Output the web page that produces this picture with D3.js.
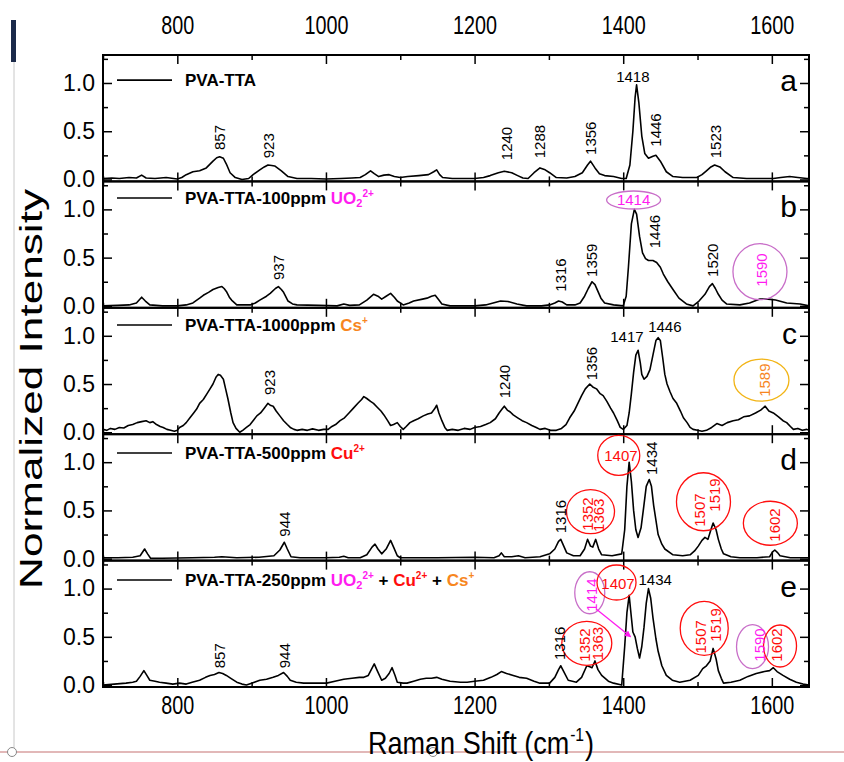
<!DOCTYPE html>
<html><head><meta charset="utf-8">
<script src="https://cdn.jsdelivr.net/npm/d3@7"></script>
<style>
html,body{margin:0;padding:0;background:#fff;}
svg{display:block;}
text{font-family:"Liberation Sans",Arial,sans-serif;}
</style></head><body>
<svg id="chart" width="844" height="762"></svg>
<script>
// ---------------- data ----------------
const xDomain=[700,1650];
const yDomain=[-0.02,1.29];
const xMajorTicks=[800,1000,1200,1400,1600];
const xMinorTicks=[700,900,1100,1300,1500];
const yMajorTicks=[0,0.5,1.0];
const yMinorTicks=[0.25,0.75,1.25];
const panelIds=["a","b","c","d","e"];

const specA=[[700,0.01],[712,0.015],[722,0.01],[735,0.02],[745,0.015],[752,0.045],[758,0.015],[770,0.01],[785,0.02],[795,0.01],[800,0.005],[806,0.02],[812,0.05],[821,0.08],[830,0.09],[839,0.12],[848,0.19],[853,0.225],[857,0.235],[862,0.22],[866,0.16],[871,0.07],[878,0.02],[887,0.0],[896,0.01],[902,0.05],[911,0.1],[917,0.13],[922,0.15],[927,0.145],[931,0.14],[940,0.09],[949,0.03],[961,0.01],[980,0.01],[1000,0.005],[1020,0.01],[1035,0.015],[1046,0.02],[1053,0.05],[1060,0.09],[1065,0.06],[1071,0.03],[1078,0.045],[1085,0.05],[1092,0.03],[1100,0.02],[1110,0.03],[1125,0.04],[1138,0.05],[1145,0.08],[1149,0.1],[1153,0.05],[1157,0.02],[1170,0.01],[1185,0.01],[1200,0.01],[1212,0.02],[1221,0.04],[1232,0.07],[1240,0.085],[1250,0.07],[1258,0.04],[1265,0.015],[1272,0.01],[1280,0.07],[1288,0.12],[1295,0.1],[1301,0.07],[1310,0.02],[1324,0.015],[1335,0.03],[1345,0.07],[1352,0.15],[1356,0.19],[1362,0.12],[1368,0.06],[1375,0.04],[1387,0.03],[1398,0.01],[1404,0.01],[1409,0.15],[1413,0.5],[1416,0.85],[1418,0.98],[1421,0.8],[1425,0.45],[1429,0.27],[1434,0.22],[1440,0.24],[1444,0.25],[1450,0.19],[1458,0.08],[1467,0.03],[1480,0.02],[1499,0.02],[1506,0.05],[1512,0.09],[1518,0.13],[1523,0.15],[1530,0.13],[1537,0.08],[1548,0.02],[1566,0.01],[1585,0.01],[1602,0.01],[1612,0.02],[1624,0.03],[1635,0.02],[1647,0.01],[1650,0.01]];

const specB=[[700,0.0],[720,0.005],[735,0.01],[745,0.03],[752,0.09],[757,0.05],[763,0.01],[780,0.0],[800,0.0],[812,0.01],[821,0.03],[830,0.08],[835,0.11],[842,0.14],[848,0.17],[855,0.19],[860,0.2],[863,0.18],[866,0.15],[870,0.09],[873,0.06],[880,0.01],[898,0.01],[905,0.03],[911,0.06],[920,0.1],[925,0.13],[932,0.18],[936,0.2],[940,0.17],[943,0.14],[949,0.05],[955,0.02],[961,0.01],[990,0.005],[1015,0.0],[1024,0.02],[1032,0.005],[1045,0.01],[1055,0.06],[1064,0.12],[1070,0.1],[1075,0.07],[1081,0.1],[1087,0.13],[1092,0.09],[1096,0.05],[1104,0.01],[1112,0.03],[1118,0.05],[1130,0.07],[1136,0.08],[1142,0.1],[1147,0.11],[1152,0.06],[1156,0.02],[1167,0.0],[1185,0.0],[1200,0.0],[1215,0.01],[1225,0.03],[1235,0.05],[1245,0.045],[1257,0.02],[1270,0.0],[1290,0.0],[1301,0.01],[1308,0.03],[1313,0.05],[1318,0.04],[1324,0.01],[1335,0.01],[1342,0.03],[1348,0.1],[1353,0.18],[1358,0.25],[1362,0.22],[1366,0.15],[1370,0.08],[1375,0.03],[1387,0.01],[1400,0.0],[1404,0.1],[1407,0.4],[1411,0.85],[1415,1.0],[1418,0.95],[1422,0.72],[1426,0.55],[1430,0.49],[1434,0.47],[1440,0.47],[1445,0.45],[1450,0.4],[1454,0.33],[1460,0.25],[1467,0.17],[1475,0.08],[1485,0.02],[1494,0.0],[1502,0.05],[1510,0.12],[1516,0.2],[1520,0.23],[1524,0.18],[1528,0.12],[1533,0.06],[1539,0.02],[1557,0.01],[1570,0.03],[1584,0.07],[1595,0.07],[1605,0.06],[1620,0.03],[1638,0.02],[1650,0.0]];

const specC=[[700,0.03],[705,0.02],[710,0.04],[716,0.03],[722,0.05],[728,0.045],[734,0.07],[740,0.08],[746,0.1],[752,0.11],[758,0.12],[763,0.1],[767,0.11],[772,0.08],[777,0.06],[781,0.05],[786,0.03],[791,0.02],[796,0.01],[800,0.02],[803,0.05],[808,0.07],[812,0.1],[817,0.15],[822,0.2],[826,0.24],[830,0.3],[835,0.34],[840,0.4],[844,0.45],[848,0.5],[852,0.57],[855,0.6],[858,0.59],[862,0.55],[865,0.45],[868,0.35],[872,0.2],[875,0.1],[879,0.04],[884,0.0],[888,0.02],[893,0.05],[898,0.08],[903,0.13],[907,0.17],[912,0.2],[917,0.25],[922,0.3],[925,0.28],[929,0.27],[933,0.22],[938,0.17],[943,0.12],[948,0.08],[952,0.05],[957,0.03],[961,0.02],[968,0.03],[975,0.02],[982,0.035],[990,0.02],[997,0.03],[1003,0.03],[1008,0.06],[1013,0.08],[1019,0.12],[1025,0.15],[1031,0.2],[1037,0.25],[1043,0.3],[1048,0.34],[1051,0.37],[1055,0.35],[1060,0.32],[1064,0.3],[1069,0.26],[1074,0.22],[1078,0.18],[1083,0.12],[1087,0.07],[1091,0.08],[1096,0.1],[1100,0.06],[1104,0.03],[1108,0.06],[1113,0.1],[1118,0.12],[1124,0.14],[1131,0.17],[1137,0.19],[1142,0.2],[1146,0.24],[1149,0.28],[1152,0.2],[1156,0.12],[1160,0.05],[1163,0.02],[1170,0.03],[1178,0.02],[1186,0.04],[1194,0.03],[1200,0.05],[1208,0.06],[1215,0.08],[1221,0.1],[1228,0.14],[1233,0.2],[1237,0.24],[1240,0.27],[1244,0.23],[1248,0.21],[1252,0.18],[1258,0.15],[1264,0.12],[1270,0.1],[1277,0.07],[1283,0.05],[1288,0.03],[1295,0.04],[1302,0.02],[1310,0.02],[1317,0.04],[1323,0.08],[1328,0.15],[1334,0.22],[1339,0.3],[1344,0.38],[1349,0.45],[1355,0.5],[1359,0.47],[1364,0.45],[1369,0.4],[1373,0.38],[1378,0.32],[1383,0.25],[1387,0.2],[1392,0.12],[1396,0.05],[1400,0.03],[1405,0.07],[1408,0.2],[1411,0.4],[1414,0.62],[1417,0.8],[1420,0.85],[1423,0.72],[1425,0.6],[1428,0.55],[1432,0.58],[1436,0.65],[1440,0.8],[1444,0.95],[1447,0.98],[1450,0.95],[1453,0.78],[1456,0.6],[1459,0.5],[1463,0.42],[1467,0.35],[1472,0.3],[1477,0.22],[1481,0.15],[1486,0.1],[1490,0.05],[1494,0.03],[1500,0.02],[1506,0.01],[1512,0.02],[1519,0.05],[1526,0.09],[1533,0.07],[1540,0.1],[1548,0.12],[1555,0.13],[1562,0.16],[1570,0.17],[1578,0.2],[1585,0.23],[1591,0.27],[1596,0.22],[1602,0.2],[1609,0.16],[1615,0.12],[1620,0.1],[1625,0.06],[1629,0.03],[1635,0.04],[1641,0.02],[1647,0.03],[1650,0.02]];

const specD=[[700,0.01],[720,0.01],[740,0.015],[750,0.03],[756,0.1],[760,0.05],[764,0.005],[780,0.005],[820,0.01],[850,0.015],[860,0.02],[880,0.01],[910,0.015],[930,0.03],[938,0.09],[944,0.17],[948,0.1],[953,0.02],[965,0.01],[1000,0.01],[1018,0.015],[1024,0.025],[1030,0.01],[1046,0.01],[1055,0.04],[1062,0.12],[1066,0.15],[1070,0.1],[1075,0.05],[1081,0.1],[1087,0.19],[1091,0.12],[1096,0.03],[1100,0.01],[1150,0.01],[1200,0.015],[1226,0.01],[1233,0.03],[1236,0.06],[1240,0.02],[1250,0.02],[1259,0.03],[1268,0.01],[1288,0.02],[1301,0.05],[1308,0.1],[1313,0.18],[1316,0.2],[1320,0.13],[1324,0.06],[1333,0.03],[1342,0.03],[1348,0.1],[1352,0.2],[1356,0.13],[1359,0.12],[1363,0.2],[1367,0.1],[1371,0.04],[1385,0.03],[1398,0.05],[1402,0.3],[1405,0.75],[1408,1.0],[1411,0.8],[1414,0.5],[1417,0.3],[1420,0.22],[1424,0.32],[1427,0.5],[1431,0.75],[1435,0.82],[1438,0.75],[1441,0.55],[1447,0.25],[1452,0.15],[1456,0.1],[1467,0.04],[1480,0.03],[1490,0.04],[1496,0.08],[1501,0.13],[1506,0.19],[1510,0.22],[1514,0.2],[1518,0.3],[1521,0.37],[1525,0.3],[1528,0.2],[1532,0.1],[1535,0.05],[1545,0.02],[1557,0.01],[1580,0.01],[1597,0.02],[1601,0.07],[1604,0.09],[1608,0.06],[1611,0.03],[1625,0.01],[1650,0.01]];

const specE=[[700,0.0],[715,0.01],[731,0.02],[740,0.03],[745,0.04],[750,0.09],[755,0.15],[759,0.1],[763,0.05],[770,0.04],[776,0.03],[785,0.02],[794,0.01],[803,0.02],[812,0.01],[820,0.03],[830,0.05],[838,0.08],[844,0.1],[850,0.11],[856,0.13],[861,0.12],[866,0.1],[872,0.07],[880,0.03],[887,0.01],[893,0.0],[900,0.02],[911,0.05],[920,0.06],[929,0.08],[936,0.1],[943,0.13],[948,0.09],[952,0.05],[960,0.03],[970,0.02],[985,0.02],[1001,0.02],[1012,0.04],[1024,0.06],[1035,0.07],[1045,0.08],[1051,0.08],[1057,0.1],[1061,0.16],[1065,0.22],[1069,0.15],[1075,0.05],[1080,0.07],[1085,0.12],[1089,0.18],[1093,0.1],[1096,0.03],[1104,0.02],[1109,0.02],[1118,0.04],[1127,0.06],[1135,0.07],[1142,0.07],[1149,0.08],[1156,0.06],[1167,0.04],[1181,0.03],[1190,0.03],[1200,0.04],[1212,0.05],[1222,0.08],[1230,0.11],[1236,0.14],[1243,0.12],[1252,0.1],[1260,0.08],[1270,0.07],[1280,0.04],[1288,0.02],[1301,0.02],[1308,0.08],[1313,0.16],[1316,0.2],[1320,0.14],[1326,0.05],[1337,0.03],[1344,0.08],[1351,0.2],[1355,0.19],[1358,0.18],[1362,0.25],[1366,0.16],[1371,0.1],[1380,0.04],[1387,0.02],[1398,0.0],[1402,0.4],[1405,0.75],[1408,0.93],[1411,0.7],[1413,0.55],[1416,0.5],[1419,0.38],[1422,0.28],[1425,0.4],[1428,0.6],[1431,0.85],[1434,1.0],[1437,0.9],[1440,0.7],[1444,0.48],[1447,0.35],[1452,0.2],[1458,0.1],[1466,0.05],[1476,0.03],[1490,0.05],[1501,0.1],[1507,0.17],[1512,0.2],[1517,0.25],[1521,0.38],[1525,0.27],[1528,0.15],[1532,0.07],[1535,0.02],[1545,0.03],[1557,0.05],[1568,0.09],[1579,0.12],[1590,0.14],[1597,0.15],[1602,0.18],[1607,0.14],[1615,0.1],[1624,0.06],[1633,0.03],[1642,0.01],[1650,0.0]];

const spectra=[specA,specB,specC,specD,specE];

// legend text segments: [text, colour key, mode]
const legendA=[["PVA-TTA","k"]];
const legendB=[["PVA-TTA-100ppm ","k"],["UO","u"],["2","u","sub"],["2+","u","sup"]];
const legendC=[["PVA-TTA-1000ppm ","k"],["Cs","s"],["+","s","sup"]];
const legendD=[["PVA-TTA-500ppm ","k"],["Cu","r"],["2+","r","sup"]];
const legendE=[["PVA-TTA-250ppm ","k"],["UO","u"],["2","u","sub"],["2+","u","sup"],[" + ","k"],["Cu","r"],["2+","r","sup"],[" + ","k"],["Cs","s"],["+","s","sup"]];
const legends=[legendA,legendB,legendC,legendD,legendE];
const legendLevel=[1.03,1.118,1.112,1.095,1.089];

// peak labels: [text, wavenumber, intensity, colour key, kind]
const peaksA=[["857",857,0.305,"k","v"],["923",923,0.22,"k","v"],["1240",1243,0.2,"k","v"],["1288",1288,0.22,"k","v"],["1356",1356,0.254,"k","v"],["1446",1444,0.34,"k","v"],["1523",1525,0.22,"k","v"],["1418",1413,1.01,"k","h"]];
const peaksB=[["937",936,0.268,"k","v"],["1316",1316,0.147,"k","v"],["1359",1357,0.3,"k","v"],["1446",1443,0.597,"k","v"],["1520",1521,0.3,"k","v"],["1414",1414,1.097,"u","hc"],["1590",1586,0.372,"u","vc"]];
const peaksC=[["923",925,0.386,"k","v"],["1240",1241,0.352,"k","v"],["1356",1357,0.54,"k","v"],["1417",1405,0.94,"k","h"],["1446",1456,1.04,"k","h"],["1589",1591,0.54,"s","vc"]];
const peaksD=[["944",944,0.228,"k","v"],["1316",1316,0.263,"k","v"],["1352",1352,0.463,"r","vc"],["1363",1367,0.45,"r","vc"],["1407",1397,1.07,"r","hc"],["1434",1438,0.867,"k","v"],["1507",1503,0.504,"r","vc"],["1519",1523,0.66,"r","vc"],["1602",1604,0.349,"r","vc"]];
const peaksE=[["857",857,0.174,"k","v"],["944",945,0.174,"k","v"],["1316",1314,0.26,"k","v"],["1352",1348,0.415,"r","vc"],["1363",1366,0.43,"r","vc"],["1414",1357,0.933,"u","vc"],["1407",1393,1.05,"r","hc"],["1434",1443,1.037,"k","h"],["1507",1505,0.5,"r","vc"],["1519",1525,0.623,"r","vc"],["1590",1584,0.415,"u","vc"],["1602",1607,0.415,"r","vc"]];
const peaks=[peaksA,peaksB,peaksC,peaksD,peaksE];

// marker ellipses: [wavenumber, intensity, colour key]
const ringsB=[[1414,1.097,"v"],[1584,0.354,"v"]];
const ringsC=[[1586,0.54,"g"]];
const ringsD=[[1356,0.487,"r"],[1394,1.07,"r"],[1508,0.59,"r"],[1598,0.367,"r"]];
const ringsE=[[1351,0.433,"r"],[1355,0.957,"v"],[1391,1.063,"r"],[1509,0.588,"r"],[1574,0.398,"v"],[1611,0.405,"r"]];
const rings=[[],ringsB,ringsC,ringsD,ringsE];
const ringRadii=[[],[[27,9],[27,28]],[[27.5,21]],[[24,22],[21,20],[27,29],[27,22]],[[25,22],[15,21],[19.5,17.5],[24,27],[16,22],[16.5,21]]];
const arrowE=[[1364,0.785],[1410,0.5]];

// ---------------- layout & styles ----------------
const colours={k:"#000",u:"#ff1cf0",r:"#ff0d0d",s:"#f7861e",v:"#c86ec8",g:"#f2b416"};
const L=103,R=809,T=55,B=687;
const ph=(B-T)/5;
const svg=d3.select("#chart");

// screenshot decorations
svg.append("rect").attr("x",11).attr("y",20).attr("width",5).attr("height",42).attr("fill","#1b2a4a");
svg.append("line").attr("x1",14).attr("x2",14).attr("y1",62).attr("y2",752).attr("stroke","#c8c8c8").attr("stroke-width",1);
svg.append("line").attr("x1",0).attr("x2",844).attr("y1",752).attr("y2",752).attr("stroke","#d9a0a0").attr("stroke-width",1.5);
[12,433].forEach(cx=>svg.append("circle").attr("cx",cx).attr("cy",752).attr("r",4.5).attr("fill","#fff").attr("stroke","#888").attr("stroke-width",1));

const x=d3.scaleLinear().domain(xDomain).range([L,R]);

const defs=svg.append("defs");
defs.append("marker").attr("id","arrowM").attr("viewBox","0 0 10 10").attr("refX",9).attr("refY",5)
  .attr("markerWidth",5).attr("markerHeight",5).attr("orient","auto")
  .append("path").attr("d","M0,0L10,5L0,10z").attr("fill",colours.u);

panelIds.forEach((id,i)=>{
  const top=T+i*ph, bot=T+(i+1)*ph;
  const y=d3.scaleLinear().domain(yDomain).range([bot,top]);
  const g=svg.append("g");

  const mk=(axis,scale,vals,size)=>axis(scale).tickValues(vals).tickSizeInner(-size).tickSizeOuter(0).tickFormat("");
  g.append("g").attr("transform",`translate(0,${bot})`).call(mk(d3.axisBottom,x,xMajorTicks,9));
  g.append("g").attr("transform",`translate(0,${bot})`).call(mk(d3.axisBottom,x,xMinorTicks,5));
  g.append("g").attr("transform",`translate(0,${top})`).call(mk(d3.axisTop,x,xMajorTicks,9));
  g.append("g").attr("transform",`translate(0,${top})`).call(mk(d3.axisTop,x,xMinorTicks,5));
  g.append("g").attr("transform",`translate(${R},0)`).call(mk(d3.axisRight,y,yMajorTicks,9));
  g.append("g").attr("transform",`translate(${R},0)`).call(mk(d3.axisRight,y,yMinorTicks,5));
  const yl=g.append("g").attr("transform",`translate(${L},0)`)
    .call(d3.axisLeft(y).tickValues(yMajorTicks).tickSizeInner(-9).tickSizeOuter(0).tickPadding(8).tickFormat(d3.format(".1f")));
  g.append("g").attr("transform",`translate(${L},0)`).call(mk(d3.axisLeft,y,yMinorTicks,5));
  g.selectAll(".domain").remove();
  g.selectAll(".tick line").attr("stroke","#000").attr("stroke-width",1.5);
  yl.selectAll("text").attr("font-size",23).attr("fill","#000").attr("font-family","Liberation Sans, Arial, sans-serif");

  const line=d3.line().x(d=>x(d[0])).y(d=>y(d[1]));
  g.append("path").datum(spectra[i]).attr("d",line).attr("fill","none").attr("stroke","#000").attr("stroke-width",1.6).attr("stroke-linejoin","round");

  g.append("rect").attr("x",L).attr("y",top).attr("width",R-L).attr("height",ph).attr("fill","none").attr("stroke","#000").attr("stroke-width",2);

  g.append("text").attr("x",R-12).attr("y",y(1.0)+8).attr("text-anchor","end").attr("font-size",30).text(id);

  const ly=y(legendLevel[i]);
  g.append("line").attr("x1",117).attr("x2",172).attr("y1",ly).attr("y2",ly).attr("stroke","#000").attr("stroke-width",1.6);
  const lt=g.append("text").attr("x",185).attr("y",ly+6).attr("font-size",17).attr("font-weight","bold");
  legends[i].forEach(s=>{
    const ts=lt.append("tspan").attr("fill",colours[s[1]]).text(s[0]);
    if(s[2]==="sup") ts.attr("font-size",10).attr("baseline-shift","75%");
    if(s[2]==="sub") ts.attr("font-size",11).attr("baseline-shift","-25%");
  });

  rings[i].forEach((r,j)=>{
    g.append("ellipse").attr("cx",x(r[0])).attr("cy",y(r[1])).attr("rx",ringRadii[i][j][0]).attr("ry",ringRadii[i][j][1])
      .attr("fill","none").attr("stroke",colours[r[2]]).attr("stroke-width",1.3);
  });

  peaks[i].forEach(p=>{
    const px=x(p[1]), py=y(p[2]);
    const t=g.append("text").attr("font-size",15).attr("fill",colours[p[3]]).text(p[0]);
    if(p[4]==="v") t.attr("transform",`translate(${px},${py}) rotate(-90)`).attr("dy","0.35em");
    else if(p[4]==="vc") t.attr("transform",`translate(${px},${py}) rotate(-90)`).attr("text-anchor","middle").attr("dy","0.35em");
    else if(p[4]==="hc") t.attr("x",px).attr("y",py).attr("text-anchor","middle").attr("dy","0.35em");
    else t.attr("x",px).attr("y",py).attr("text-anchor","middle");
  });

  if(i===4){
    g.append("line").attr("x1",x(arrowE[0][0])).attr("y1",y(arrowE[0][1])).attr("x2",x(arrowE[1][0])).attr("y2",y(arrowE[1][1]))
      .attr("stroke",colours.u).attr("stroke-width",1.3).attr("marker-end","url(#arrowM)");
  }
});

// outer x tick labels (narrow style)
const xt=svg.append("g").attr("transform",`translate(0,${T})`).call(d3.axisTop(x).tickValues(xMajorTicks).tickSize(0).tickPadding(21).tickFormat(d3.format("d")));
const xb=svg.append("g").attr("transform",`translate(0,${B})`).call(d3.axisBottom(x).tickValues(xMajorTicks).tickSize(0).tickPadding(9).tickFormat(d3.format("d")));
[xt,xb].forEach(a=>{a.select(".domain").remove();
  a.selectAll("text").attr("font-size",25).attr("fill","#000").attr("font-family","Liberation Sans, Arial, sans-serif")
   .attr("textLength",d=>String(d).length*11).attr("lengthAdjust","spacingAndGlyphs");});

// x title, narrow, as separate pieces
const tg=svg.append("g");
const p1=tg.append("text").attr("font-size",31).text("Raman Shift (cm");
const p2=tg.append("text").attr("font-size",18).text("-1");
const p3=tg.append("text").attr("font-size",31).text(")");
const w1=p1.node().getComputedTextLength(), w2=p2.node().getComputedTextLength(), w3=p3.node().getComputedTextLength();
const sx=226/(w1+w2+w3+2);
p1.attr("x",0).attr("y",0);
p2.attr("x",w1+1).attr("y",-13);
p3.attr("x",w1+w2+2).attr("y",0);
tg.attr("transform",`translate(368,754) scale(${sx},1)`);

svg.append("text").attr("transform",`translate(42,${(T+B)/2+18}) rotate(-90)`).attr("text-anchor","middle").attr("font-size",32)
  .attr("textLength",400).attr("lengthAdjust","spacingAndGlyphs").text("Normalized Intensity");
</script></body></html>
